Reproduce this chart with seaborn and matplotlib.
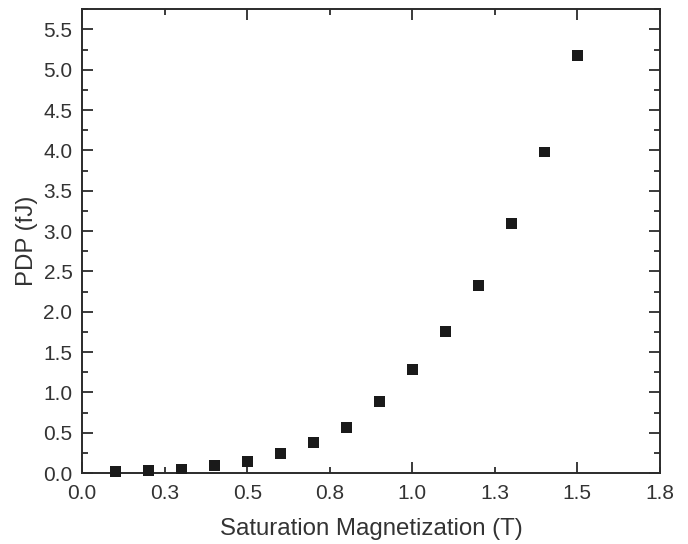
import matplotlib
matplotlib.use("Agg")
import matplotlib.pyplot as plt
import seaborn as sns
import pandas as pd
from matplotlib.ticker import FixedLocator, FixedFormatter

# Data
saturation_magnetization = [0.1, 0.2, 0.3, 0.4, 0.5, 0.6, 0.7, 0.8, 0.9, 1.0, 1.1, 1.2, 1.3, 1.4, 1.5]
pdp_fj = [0.02, 0.03, 0.05, 0.09, 0.145, 0.24, 0.38, 0.57, 0.89, 1.28, 1.76, 2.32, 3.09, 3.98, 5.18]
x_major_ticks = [0.0, 0.5, 1.0, 1.5]
x_major_labels = ["0.0", "0.5", "1.0", "1.5"]
x_minor_ticks = [0.25, 0.75, 1.25, 1.75]
x_minor_labels = ["0.3", "0.8", "1.3", "1.8"]
y_major_ticks = [0.0, 0.5, 1.0, 1.5, 2.0, 2.5, 3.0, 3.5, 4.0, 4.5, 5.0, 5.5]

sns.set_style("ticks")
plt.rcParams['font.family'] = ['Liberation Sans', 'DejaVu Sans']

df = pd.DataFrame({"Ms": saturation_magnetization, "PDP": pdp_fj})

fig = plt.figure(figsize=(6.88, 5.44), dpi=100)
ax = fig.add_axes([0.1195, 0.1305, 0.8395, 0.8525])

dark = "#2b2b2b"
sns.scatterplot(data=df, x="Ms", y="PDP", marker="s", s=62, color="#1a1a1a",
                edgecolor="none", ax=ax, zorder=5, clip_on=False, legend=False)

ax.set_xlim(0, 1.75)
ax.set_ylim(0, 5.75)

ax.xaxis.set_major_locator(FixedLocator(x_major_ticks))
ax.xaxis.set_major_formatter(FixedFormatter(x_major_labels))
ax.xaxis.set_minor_locator(FixedLocator(x_minor_ticks))
ax.xaxis.set_minor_formatter(FixedFormatter(x_minor_labels))
ax.yaxis.set_major_locator(FixedLocator(y_major_ticks))
ax.yaxis.set_major_formatter(FixedFormatter([f"{v:.1f}" for v in y_major_ticks]))
ax.yaxis.set_minor_locator(FixedLocator([v + 0.25 for v in y_major_ticks]))

for side in ["left", "right", "top", "bottom"]:
    ax.spines[side].set_visible(True)
    ax.spines[side].set_color(dark)
    ax.spines[side].set_linewidth(1.4)

ax.tick_params(which="both", direction="in", top=True, right=True, colors=dark,
               labelcolor="#333333", labelsize=15, width=1.3)
ax.tick_params(which="major", length=8)
ax.tick_params(which="minor", length=4.5)
ax.tick_params(axis="x", which="both", pad=8)
ax.tick_params(axis="y", which="both", pad=7)

ax.set_xlabel("Saturation Magnetization (T)", fontsize=17.3, color="#333333", labelpad=11)
ax.set_ylabel("PDP (fJ)", fontsize=17.3, color="#333333", labelpad=4)

fig.savefig("out.png", dpi=100)
